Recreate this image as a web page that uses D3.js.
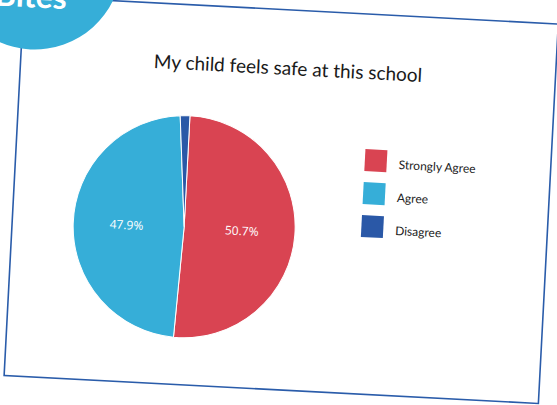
<!DOCTYPE html>
<html>
<head>
    <script src="https://d3js.org/d3.v7.min.js"></script>
    <style>
        body {
            margin: 0;
            background: #ffffff;
        }
        svg {
            display: block;
        }
    </style>
</head>
<body>
    <script>
        // data
        var categories = ["Strongly Agree", "Agree", "Disagree"];
        var values = [50.7, 47.9, 1.4];
        var colors = ["#D94452", "#36AED8", "#2A58A7"];
        var title = "My child feels safe at this school";
        var badgeText = "Bites";

        var svg = d3.select("body").append("svg")
            .attr("width", 557)
            .attr("height", 405);

        // the whole card sits tilted by a few degrees
        var card = svg.append("g")
            .attr("transform", "translate(24,-4) rotate(3)");

        var cardW = 535,
            cardH = 380;

        card.append("rect")
            .attr("width", cardW)
            .attr("height", cardH)
            .attr("fill", "#ffffff")
            .attr("stroke", "#2A5CAA")
            .attr("stroke-width", 1.6);

        card.append("text")
            .attr("x", cardW / 2)
            .attr("y", 65)
            .attr("text-anchor", "middle")
            .style("font-family", "Lato, sans-serif")
            .style("font-size", "19px")
            .style("fill", "#1a1a1a")
            .text(title);

        var data = categories.map(function(c, i) {
            return { key: c, value: values[i], color: colors[i] };
        });

        var radius = 111;
        var pie = d3.pie()
            .sort(null)
            .value(function(d) { return d.value; });
        var arc = d3.arc().innerRadius(0).outerRadius(radius);
        var labelArc = d3.arc().innerRadius(radius * 0.52).outerRadius(radius * 0.52);

        var g = card.append("g")
            .attr("transform", "translate(172,222)");

        var slices = g.selectAll(".slice")
            .data(pie(data))
            .enter().append("g")
            .attr("class", "slice");

        slices.append("path")
            .attr("d", arc)
            .attr("fill", function(d) { return d.data.color; })
            .attr("stroke", "#ffffff")
            .attr("stroke-width", 1);

        slices.filter(function(d) { return d.data.value > 5; })
            .append("text")
            .attr("transform", function(d) {
                var c = labelArc.centroid(d);
                return "translate(" + c[0] + "," + c[1] + ")";
            })
            .attr("text-anchor", "middle")
            .attr("dy", ".35em")
            .style("font-family", "'Open Sans', sans-serif")
            .style("font-size", "12px")
            .style("fill", "#ffffff")
            .text(function(d) { return d.data.value.toFixed(1) + "%"; });

        // legend
        var legend = card.append("g")
            .attr("transform", "translate(349,135)");

        var item = legend.selectAll(".item")
            .data(data)
            .enter().append("g")
            .attr("class", "item")
            .attr("transform", function(d, i) { return "translate(0," + i * 33 + ")"; });

        item.append("rect")
            .attr("width", 22)
            .attr("height", 22)
            .attr("fill", function(d) { return d.color; });

        item.append("text")
            .attr("x", 34)
            .attr("y", 14)
            .attr("dy", ".35em")
            .style("font-family", "Lato, sans-serif")
            .style("font-size", "12px")
            .style("fill", "#1a1a1a")
            .text(function(d) { return d.key; });

        // round badge in the corner
        card.append("circle")
            .attr("cx", 9)
            .attr("cy", -34)
            .attr("r", 87)
            .attr("fill", "#36AED8");

        card.append("text")
            .attr("x", 43)
            .attr("y", 11)
            .attr("text-anchor", "end")
            .style("font-family", "Lato, sans-serif")
            .style("font-weight", "bold")
            .style("font-size", "32px")
            .style("fill", "#ffffff")
            .text(badgeText);
    </script>
</body>
</html>
